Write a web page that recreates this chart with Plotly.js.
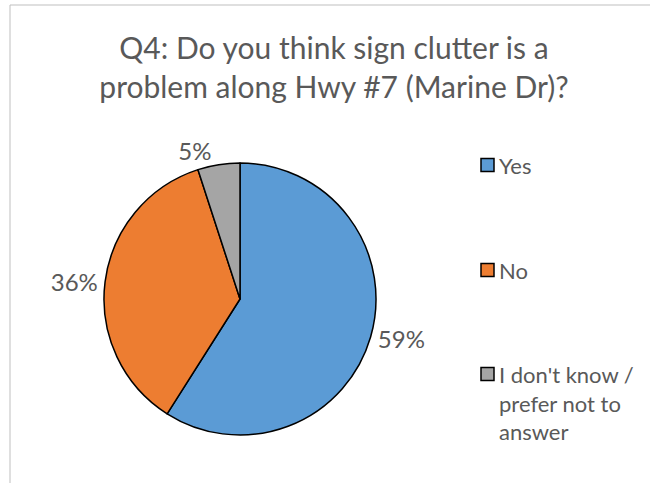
<!DOCTYPE html>
<html>
<head>
<meta charset="utf-8">
<script src="https://cdn.plot.ly/plotly-3.0.1.min.js"></script>
<style>html,body{margin:0;padding:0;background:#fff;}#chart{width:650px;height:483px;}</style>
</head>
<body>
<div id="chart"></div>
<script>
const titleText = "Q4: Do you think sign clutter is a<br>problem along Hwy #7 (Marine Dr)?";
const labels = ["Yes", "No", "I don't know / prefer not to answer"];
const legendLabels = ["Yes", "No", "I don't know /<br>prefer not to<br>answer"];
const values = [59, 36, 5];
const colors = ["#5B9BD5", "#ED7D31", "#A5A5A5"];

const W = 650, H = 483;
const cx = 240, cy = 299, r = 136;
const FONT = "Lato, 'Open Sans', sans-serif";
const TXT = "#595959";

const trace = {
  type: "pie",
  labels: labels,
  values: values,
  sort: false,
  direction: "clockwise",
  rotation: 0,
  marker: {colors: colors, line: {color: "#000000", width: 1.5}},
  textinfo: "percent",
  textposition: "outside",
  outsidetextfont: {family: FONT, size: 24, color: TXT},
  hoverinfo: "none",
  showlegend: false,
  automargin: false,
  domain: {x: [(cx - r) / W, (cx + r) / W], y: [(H - cy - r) / H, (H - cy + r) / H]}
};

const legendY = [165, 270, 374];
const shapes = [
  {type: "line", xref: "paper", yref: "paper", x0: 10 / W, x1: 1.01, y0: 1 - 5 / H, y1: 1 - 5 / H, line: {color: "#BFBFBF", width: 1}},
  {type: "line", xref: "paper", yref: "paper", x0: 10 / W, x1: 10 / W, y0: 1 - 5 / H, y1: -0.01, line: {color: "#BFBFBF", width: 1}}
];
const annotations = [];
legendLabels.forEach((lab, i) => {
  const y = legendY[i];
  shapes.push({type: "rect", xref: "paper", yref: "paper",
    x0: 481 / W, x1: 494 / W, y0: 1 - (y + 6.5) / H, y1: 1 - (y - 6.5) / H,
    fillcolor: colors[i], line: {color: "#000000", width: 1.5}});
  annotations.push({xref: "paper", yref: "paper", x: 497 / W, y: 1 - (y - 15.5) / H,
    xanchor: "left", yanchor: "top", align: "left", showarrow: false,
    text: lab, font: {family: FONT, size: 22, color: TXT}});
});

const layout = {
  width: W, height: H,
  margin: {l: 0, r: 0, t: 0, b: 0},
  paper_bgcolor: "#ffffff",
  title: {text: titleText, x: 334 / W, xanchor: "center", y: 1 - 59 / H, yanchor: "top",
    font: {family: FONT, size: 30, color: TXT}},
  shapes: shapes,
  annotations: annotations
};

Plotly.newPlot("chart", [trace], layout, {staticPlot: true});
</script>
</body>
</html>
